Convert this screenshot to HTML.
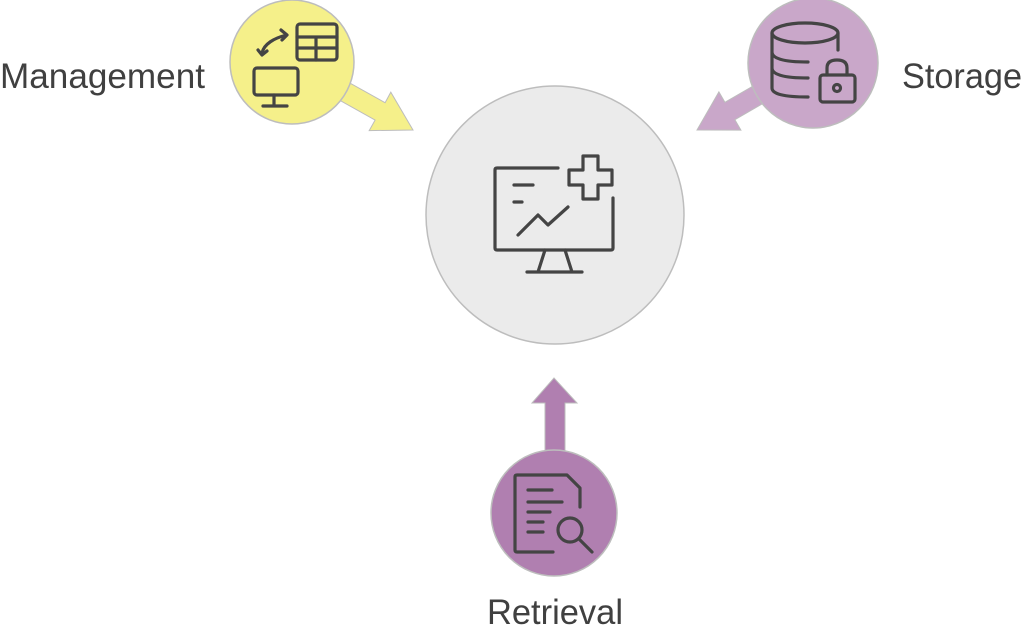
<!DOCTYPE html>
<html><head><meta charset="utf-8"><style>
html,body{margin:0;padding:0;background:#fff;}
svg{display:block}
text{font-family:"Liberation Sans",sans-serif;fill:#404040;}
</style></head><body>
<svg width="1024" height="626" viewBox="0 0 1024 626" xmlns="http://www.w3.org/2000/svg">
<!-- center -->
<circle cx="555" cy="215" r="129" fill="#ebebeb" stroke="#bdbdbd" stroke-width="1.5"/>
<g fill="none" stroke="#444" stroke-width="3.2" stroke-linecap="round" stroke-linejoin="round">
<path d="M558,168 H497 Q495,168 495,170 V248 Q495,250 497,250 H611 Q613,250 613,248 V198"/>
<path d="M583,156 H598 V170 H612 V185 H598 V199 H583 V185 H569 V170 H583 Z"/>
<path d="M514,185 H533 M514,202 H522"/>
<path d="M518,235 L538,215 L548,225 L568,207"/>
<path d="M545,250 L538,272 M565,250 L572,272 M527,272 H582"/>
</g>
<!-- management -->
<polygon points="331.7,72.9 385.1,102.7 390.8,92.2 413,130 369.2,130.6 375.1,120.1 321.9,90.3" fill="#f5f08a" stroke="#bdbdbd" stroke-width="1"/>
<circle cx="292" cy="62" r="62" fill="#f5f08a" stroke="#bdbdbd" stroke-width="1.5"/>
<g fill="none" stroke="#444" stroke-width="3.2" stroke-linecap="round" stroke-linejoin="round">
<rect x="297" y="24" width="40" height="36" rx="3"/>
<path d="M297,37 H337 M297,48 H337 M316,37 V60"/>
<rect x="254" y="68" width="44" height="27" rx="3"/>
<path d="M274,95 V105 M263,106 H287"/>
<path d="M262,53 C264,44 274,38 287,35 M281,30 L287,35 L282,40"/>
<path d="M262,55 L258,50 M262,55 L267,51"/>
</g>
<!-- storage -->
<polygon points="773.4,74.3 724.9,102.3 718.9,91.9 697,130 740.9,130.1 734.9,119.7 783.4,91.7" fill="#c9a7c9" stroke="#bdbdbd" stroke-width="1"/>
<circle cx="813" cy="63" r="65" fill="#c9a7c9" stroke="#bdbdbd" stroke-width="1.5"/>
<g fill="none" stroke="#444" stroke-width="3.2" stroke-linecap="round" stroke-linejoin="round">
<ellipse cx="805" cy="33" rx="33" ry="10"/>
<path d="M772,33 V88 Q772,97 808,97 M772,52 Q772,62 808,62 M772,68 Q772,78 808,78 M838,33 V50"/>
<rect x="820" y="75" width="35" height="27" rx="3"/>
<path d="M827,75 V68 Q827,60 837,60 Q847,60 847,68 V75"/>
<circle cx="837" cy="88" r="3.5"/>
</g>
<!-- retrieval -->
<path d="M545,460 V403 H532 L554,378 L577,403 H565 V460 Z" fill="#b07fb0" stroke="#bdbdbd" stroke-width="1"/>
<circle cx="554" cy="513" r="63" fill="#b07fb0" stroke="#bdbdbd" stroke-width="1.5"/>
<g fill="none" stroke="#444" stroke-width="3.2" stroke-linecap="round" stroke-linejoin="round">
<path d="M553,552 H517 Q515,552 515,550 V477 Q515,475 517,475 H567 L580,488 V507"/>
<path d="M528,490 H552 M528,502 H562 M528,512 H550 M528,522 H543 M528,532 H543"/>
<circle cx="570" cy="530" r="12"/>
<path d="M579,539 L592,552"/>
</g>
<text x="0" y="88" font-size="35" textLength="205" lengthAdjust="spacingAndGlyphs">Management</text>
<text x="902" y="88" font-size="35" textLength="120" lengthAdjust="spacingAndGlyphs">Storage</text>
<text x="487" y="624" font-size="35" textLength="136" lengthAdjust="spacingAndGlyphs">Retrieval</text>
</svg>
</body></html>
